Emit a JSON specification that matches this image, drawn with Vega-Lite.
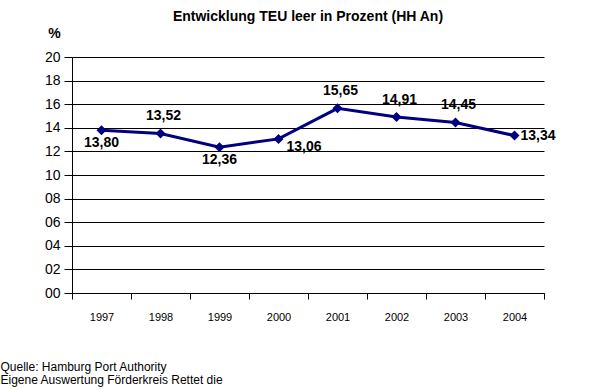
{
  "$schema": "https://vega.github.io/schema/vega-lite/v6.json",
  "width": 472,
  "height": 236,
  "autosize": {"type": "none"},
  "padding": {"left": 72, "top": 57, "right": 46, "bottom": 97},
  "background": "white",
  "config": {"view": {"stroke": null}, "font": "Liberation Sans"},
  "title": {
    "text": "Entwicklung TEU leer in Prozent (HH An)",
    "fontSize": 14,
    "fontWeight": "bold",
    "font": "Liberation Sans",
    "color": "black",
    "anchor": "middle",
    "frame": "group",
    "offset": 2
  },
  "data": {
    "values": [
      {"year": "1997", "value": 13.80, "label": "13,80"},
      {"year": "1998", "value": 13.52, "label": "13,52"},
      {"year": "1999", "value": 12.36, "label": "12,36"},
      {"year": "2000", "value": 13.06, "label": "13,06"},
      {"year": "2001", "value": 15.65, "label": "15,65"},
      {"year": "2002", "value": 14.91, "label": "14,91"},
      {"year": "2003", "value": 14.45, "label": "14,45"},
      {"year": "2004", "value": 13.34, "label": "13,34"}
    ]
  },
  "encoding": {
    "x": {
      "field": "year",
      "type": "ordinal",
      "scale": {"type": "band", "paddingInner": 0, "paddingOuter": 0},
      "axis": {
        "title": ["Quelle: Hamburg Port Authority", "Eigene Auswertung Förderkreis Rettet die"],
        "titleAlign": "left",
        "titleX": -72,
        "titleY": 77,
        "titleBaseline": "alphabetic",
        "titleFontSize": 12,
        "titleFontWeight": "normal",
        "titleLineHeight": 13,
        "titleColor": "black",
        "labelAngle": 0,
        "labelFontSize": 11,
        "labelPadding": 12,
        "labelColor": "black",
        "tickBand": "extent",
        "tickSize": 6,
        "tickColor": "black",
        "domainColor": "black",
        "grid": false
      }
    },
    "y": {
      "field": "value",
      "type": "quantitative",
      "scale": {"domain": [0, 20], "nice": false},
      "axis": {
        "title": "%",
        "titleAngle": 0,
        "titleX": -18,
        "titleY": -24,
        "titleAlign": "center",
        "titleBaseline": "middle",
        "titleFontSize": 14,
        "titleFontWeight": "bold",
        "titleColor": "black",
        "values": [0, 2, 4, 6, 8, 10, 12, 14, 16, 18, 20],
        "format": "02d",
        "labelFontSize": 14,
        "labelPadding": 4,
        "labelColor": "black",
        "tickSize": 8,
        "tickColor": "black",
        "domainColor": "black",
        "gridColor": "black",
        "gridOpacity": 1
      }
    }
  },
  "layer": [
    {"mark": {"type": "line", "color": "#000080", "strokeWidth": 3}},
    {"mark": {"type": "point", "shape": "diamond", "filled": true, "size": 100, "color": "#000080", "opacity": 1}},
    {
      "transform": [{"filter": {"field": "year", "oneOf": ["1998", "2001", "2002", "2003"]}}],
      "mark": {"type": "text", "fontSize": 14, "fontWeight": "bold", "color": "black", "baseline": "middle", "dy": -17, "dx": 3},
      "encoding": {"text": {"field": "label"}}
    },
    {
      "transform": [{"filter": {"field": "year", "oneOf": ["1997", "1999"]}}],
      "mark": {"type": "text", "fontSize": 14, "fontWeight": "bold", "color": "black", "baseline": "middle", "dy": 13},
      "encoding": {"text": {"field": "label"}}
    },
    {
      "transform": [{"filter": {"field": "year", "equal": "2000"}}],
      "mark": {"type": "text", "fontSize": 14, "fontWeight": "bold", "color": "black", "baseline": "middle", "align": "left", "dx": 8, "dy": 8},
      "encoding": {"text": {"field": "label"}}
    },
    {
      "transform": [{"filter": {"field": "year", "equal": "2004"}}],
      "mark": {"type": "text", "fontSize": 14, "fontWeight": "bold", "color": "black", "baseline": "middle", "align": "left", "dx": 6},
      "encoding": {"text": {"field": "label"}}
    }
  ]
}
